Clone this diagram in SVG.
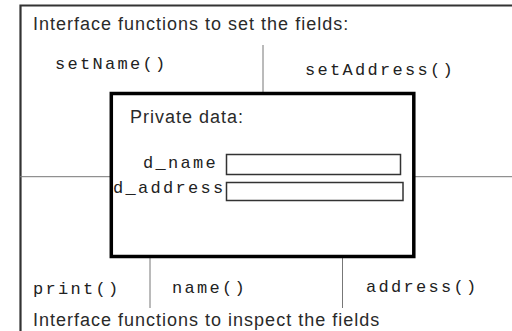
<svg xmlns="http://www.w3.org/2000/svg" width="512" height="331" viewBox="0 0 512 331">
<style>
.sans{font-family:"Liberation Sans",Arial,sans-serif;font-size:18px;letter-spacing:1px;fill:#2a2a2a}
.mono{font-family:"Liberation Mono","Courier New",monospace;font-size:17px;letter-spacing:2.3px;fill:#222}
.thin{stroke:#777;stroke-width:1;fill:none}
.field{fill:#fff;stroke:#333;stroke-width:1.5}
</style>
<rect width="512" height="331" fill="#fff"/>
<g id="frame">
<path d="M20.5,331 V5.5 H512" fill="none" stroke="#333" stroke-width="2.2"/>
<text class="sans" x="33" y="30">Interface functions to set the fields:</text>
<text class="sans" x="33" y="326">Interface functions to inspect the fields</text>
</g>
<g id="connectors">
<line class="thin" x1="263" y1="45" x2="263" y2="92"/>
<line class="thin" x1="20" y1="176.7" x2="111" y2="176.7"/>
<line class="thin" x1="414" y1="176.7" x2="512" y2="176.7"/>
<line class="thin" x1="150" y1="258" x2="150" y2="308"/>
<line class="thin" x1="342.5" y1="258" x2="342.5" y2="308"/>
</g>
<g id="setName"><text class="mono" x="55" y="69">setName()</text></g>
<g id="setAddress"><text class="mono" x="305" y="75">setAddress()</text></g>
<g id="private">
<rect x="111.3" y="93.5" width="302.5" height="163" fill="#fff" stroke="#000" stroke-width="3.5"/>
<text class="sans" x="130" y="123">Private data:</text>
<g id="d_name">
<text class="mono" x="143" y="168">d_name</text>
<rect class="field" x="226.5" y="154.5" width="174" height="20"/>
</g>
<g id="d_address">
<text class="mono" x="113" y="193">d_address</text>
<rect class="field" x="226.5" y="182.5" width="176.5" height="18" stroke="#555"/>
</g>
</g>
<g id="print"><text class="mono" x="33" y="294">print()</text></g>
<g id="name"><text class="mono" x="172" y="293">name()</text></g>
<g id="address"><text class="mono" x="366" y="292">address()</text></g>
</svg>
